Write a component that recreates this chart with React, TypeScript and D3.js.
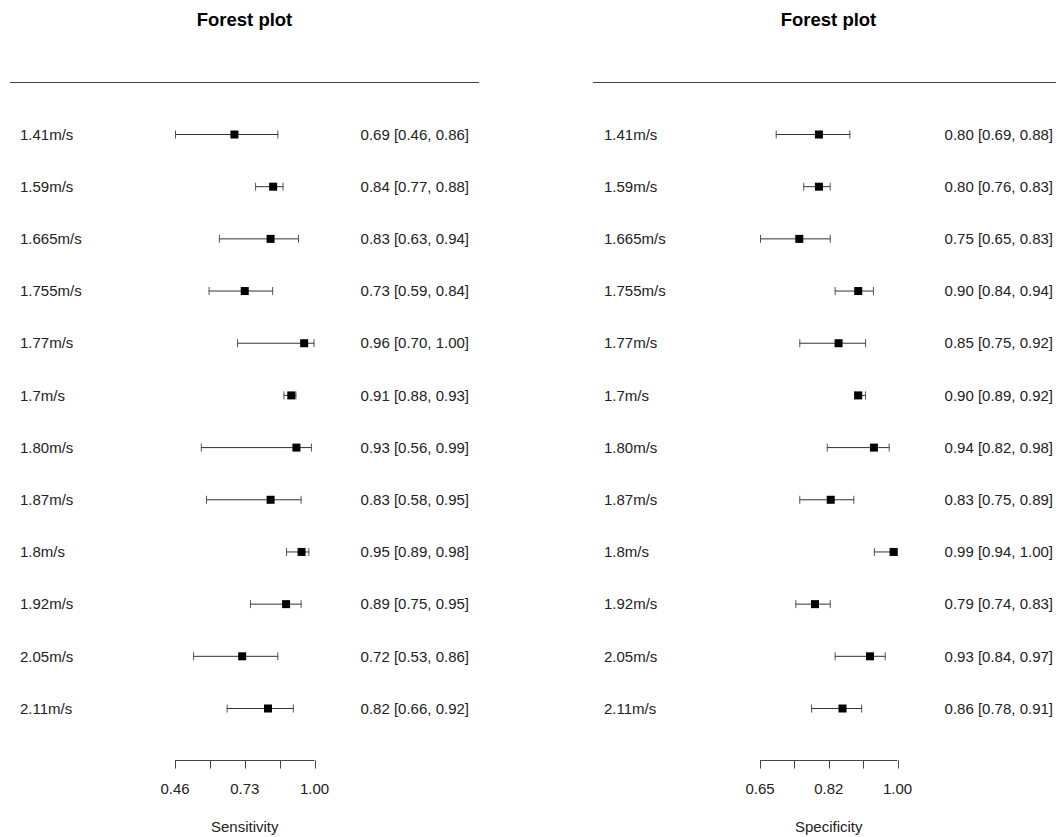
import * as d3 from 'd3';

const studies = [
  '1.41m/s', '1.59m/s', '1.665m/s', '1.755m/s', '1.77m/s', '1.7m/s',
  '1.80m/s', '1.87m/s', '1.8m/s', '1.92m/s', '2.05m/s', '2.11m/s',
];

const sensEst = [0.69, 0.84, 0.83, 0.73, 0.96, 0.91, 0.93, 0.83, 0.95, 0.89, 0.72, 0.82];
const sensLo = [0.46, 0.77, 0.63, 0.59, 0.70, 0.88, 0.56, 0.58, 0.89, 0.75, 0.53, 0.66];
const sensHi = [0.86, 0.88, 0.94, 0.84, 1.00, 0.93, 0.99, 0.95, 0.98, 0.95, 0.86, 0.92];

const specEst = [0.80, 0.80, 0.75, 0.90, 0.85, 0.90, 0.94, 0.83, 0.99, 0.79, 0.93, 0.86];
const specLo = [0.69, 0.76, 0.65, 0.84, 0.75, 0.89, 0.82, 0.75, 0.94, 0.74, 0.84, 0.78];
const specHi = [0.88, 0.83, 0.83, 0.94, 0.92, 0.92, 0.98, 0.89, 1.00, 0.83, 0.97, 0.91];

const sensTicks = [0.46, 0.595, 0.73, 0.865, 1.0];
const specTicks = [0.65, 0.7375, 0.825, 0.9125, 1.0];
const sensTickLabels = ['0.46', '', '0.73', '', '1.00'];
const specTickLabels = ['0.65', '', '0.82', '', '1.00'];

const FONT = 'Liberation Sans, Arial, sans-serif';
const W = 1056;
const H = 837;

interface PanelProps {
  x0: number;
  titleX: number;
  lineX1: number;
  lineX2: number;
  axisRange: [number, number];
  domain: [number, number];
  est: number[];
  lo: number[];
  hi: number[];
  ticks: number[];
  tickLabels: string[];
  xlab: string;
  textRight: number;
}

function Panel(p: PanelProps) {
  const x = d3.scaleLinear().domain(p.domain).range(p.axisRange);
  const y = d3.scalePoint<number>()
    .domain(d3.range(studies.length))
    .range([134.5, 708.5]);
  const axisY = 760.5;
  const fmt = d3.format('.2f');

  return (
    <g fontFamily={FONT}>
      <text x={p.titleX} y={25.5} textAnchor="middle" fontSize={18.5} fontWeight="bold" fill="#000">
        Forest plot
      </text>
      <line x1={p.lineX1} x2={p.lineX2} y1={82.5} y2={82.5} stroke="#444" strokeWidth={1} />
      {studies.map((s, i) => {
        const cy = y(i)!;
        const xl = x(p.lo[i]);
        const xh = x(p.hi[i]);
        const xe = x(p.est[i]);
        return (
          <g key={s}>
            <text x={p.x0 + 20} y={cy} dy="0.35em" fontSize={15} fill="#222">{s}</text>
            <line x1={xl} x2={xh} y1={cy} y2={cy} stroke="#333" strokeWidth={1} />
            <line x1={xl + 0.5} x2={xl + 0.5} y1={cy - 4} y2={cy + 4} stroke="#555" strokeWidth={1} />
            <line x1={xh - 0.5} x2={xh - 0.5} y1={cy - 4} y2={cy + 4} stroke="#555" strokeWidth={1} />
            <rect x={xe - 4} y={cy - 4} width={8} height={8} fill="#000" />
            <text x={p.textRight} y={cy} dy="0.35em" fontSize={15} textAnchor="end" fill="#222">
              {`${fmt(p.est[i])} [${fmt(p.lo[i])}, ${fmt(p.hi[i])}]`}
            </text>
          </g>
        );
      })}
      <line x1={x(p.domain[0])} x2={x(p.domain[1])} y1={axisY} y2={axisY} stroke="#444" strokeWidth={1} />
      {p.ticks.map((t, i) => (
        <g key={i}>
          <line x1={Math.round(x(t)) + 0.5} x2={Math.round(x(t)) + 0.5} y1={axisY} y2={axisY + 8} stroke="#444" strokeWidth={1} />
          {p.tickLabels[i] && (
            <text x={x(t)} y={789} dy="0.35em" textAnchor="middle" fontSize={15} fill="#222">
              {p.tickLabels[i]}
            </text>
          )}
        </g>
      ))}
      <text x={x((p.domain[0] + p.domain[1]) / 2)} y={827} dy="0.35em" textAnchor="middle" fontSize={15} fill="#222">
        {p.xlab}
      </text>
    </g>
  );
}

export default function App() {
  return (
    <svg width={W} height={H} style={{ position: 'absolute', left: 0, top: 0, background: '#fff' }}>
      <rect width={W} height={H} fill="#fff" />
      <Panel
        x0={0}
        titleX={244.5}
        lineX1={10}
        lineX2={479}
        axisRange={[175, 314.5]}
        domain={[0.46, 1.0]}
        est={sensEst}
        lo={sensLo}
        hi={sensHi}
        ticks={sensTicks}
        tickLabels={sensTickLabels}
        xlab="Sensitivity"
        textRight={469}
      />
      <Panel
        x0={584}
        titleX={828.5}
        lineX1={593}
        lineX2={1056}
        axisRange={[760, 897.5]}
        domain={[0.65, 1.0]}
        est={specEst}
        lo={specLo}
        hi={specHi}
        ticks={specTicks}
        tickLabels={specTickLabels}
        xlab="Specificity"
        textRight={1053}
      />
    </svg>
  );
}
